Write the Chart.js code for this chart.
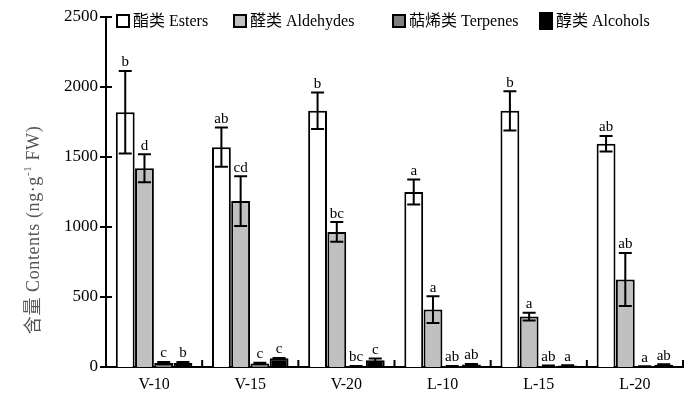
<!DOCTYPE html>
<html>
<head>
<meta charset="utf-8">
<script src="https://cdn.jsdelivr.net/npm/chart.js@4/dist/chart.umd.min.js"></script>
<style>
  body { margin: 0; background: #fff; }
  #wrap { width: 699px; height: 394px; }
</style>
</head>
<body>
<div id="wrap"><canvas id="contentChart" width="699" height="394"></canvas></div>
<script>
const categories = ["V-10", "V-15", "V-20", "L-10", "L-15", "L-20"];

const esters = [1820, 1570, 1830, 1250, 1830, 1595];
const estersErr = [295, 140, 130, 90, 140, 55];
const estersSig = ["b", "ab", "b", "a", "b", "ab"];

const aldehydes = [1420, 1185, 965, 410, 360, 625];
const aldehydesErr = [100, 178, 70, 95, 28, 190];
const aldehydesSig = ["d", "cd", "bc", "a", "a", "ab"];

const terpenes = [28, 25, 5, 6, 8, 4];
const terpenesErr = [8, 5, 2, 2, 2, 1];
const terpenesSig = ["c", "c", "bc", "ab", "ab", "a"];

const alcohols = [28, 62, 48, 18, 10, 16];
const alcoholsErr = [8, 3, 12, 3, 2, 3];
const alcoholsSig = ["b", "c", "c", "ab", "a", "ab"];

const yTicks = [0, 500, 1000, 1500, 2000, 2500];

const serif = "'Liberation Serif', 'Noto Sans CJK SC', serif";

// error bars + significance letters
const errorBars = {
    id: "errorBars",
    afterDatasetsDraw(chart) {
        const ctx = chart.ctx;
        const y = chart.scales.y;
        ctx.save();
        chart.data.datasets.forEach((ds, i) => {
            const meta = chart.getDatasetMeta(i);
            meta.data.forEach((bar, j) => {
                const v = ds.data[j];
                const e = ds.err[j];
                const top = y.getPixelForValue(v + e);
                const bot = y.getPixelForValue(Math.max(0, v - e));
                ctx.strokeStyle = "#000";
                ctx.lineWidth = 2;
                ctx.beginPath();
                ctx.moveTo(bar.x, top);
                ctx.lineTo(bar.x, bot);
                ctx.moveTo(bar.x - 6.5, top);
                ctx.lineTo(bar.x + 6.5, top);
                ctx.moveTo(bar.x - 6.5, bot);
                ctx.lineTo(bar.x + 6.5, bot);
                ctx.stroke();
                ctx.fillStyle = "#000";
                ctx.font = "15px " + serif;
                ctx.textAlign = "center";
                ctx.textBaseline = "bottom";
                ctx.fillText(ds.sig[j], bar.x, Math.min(top, bar.y) - 1);
            });
        });
        ctx.restore();
    }
};

// axis ticks, legend and y title drawn by hand
const decorations = {
    id: "decorations",
    afterDraw(chart) {
        const ctx = chart.ctx;
        const area = chart.chartArea;
        const y = chart.scales.y;
        const x = chart.scales.x;
        ctx.save();
        ctx.strokeStyle = "#000";
        ctx.lineWidth = 2;
        ctx.beginPath();
        yTicks.forEach(t => {
            const py = Math.round(y.getPixelForValue(t));
            ctx.moveTo(area.left - 6, py);
            ctx.lineTo(area.left + 6, py);
        });
        for (let k = 1; k <= categories.length; k++) {
            const px = x.getPixelForValue(k - 0.5);
            ctx.moveTo(px, area.bottom);
            ctx.lineTo(px, area.bottom - 7);
        }
        ctx.stroke();

        // legend
        const items = [
            { x: 117, w: 12, h: 12 },
            { x: 234, w: 12, h: 12 },
            { x: 393, w: 12, h: 12 },
            { x: 540, w: 12, h: 16 }
        ];
        ctx.font = "16px " + serif;
        ctx.textAlign = "left";
        ctx.textBaseline = "middle";
        chart.data.datasets.forEach((ds, i) => {
            const it = items[i];
            const cy = 21;
            ctx.fillStyle = ds.backgroundColor;
            ctx.fillRect(it.x, cy - it.h / 2, it.w, it.h);
            ctx.lineWidth = 2;
            ctx.strokeStyle = "#000";
            ctx.strokeRect(it.x, cy - it.h / 2, it.w, it.h);
            ctx.fillStyle = "#000";
            ctx.fillText(ds.label, it.x + it.w + 4, cy + 1);
        });

        // y axis title with superscript
        ctx.translate(34, 230);
        ctx.rotate(-Math.PI / 2);
        ctx.fillStyle = "#555";
        ctx.letterSpacing = "0.6px";
        const main = "含量 Contents (ng·g";
        const sup = "-1";
        const tail = " FW)";
        const big = "18px " + serif;
        const small = "11px " + serif;
        ctx.font = big;
        const w1 = ctx.measureText(main).width;
        const w3 = ctx.measureText(tail).width;
        ctx.font = small;
        const w2 = ctx.measureText(sup).width;
        let sx = -(w1 + w2 + w3) / 2;
        ctx.textAlign = "left";
        ctx.textBaseline = "middle";
        ctx.font = big;
        ctx.fillText(main, sx, 0);
        ctx.font = small;
        ctx.fillText(sup, sx + w1, -6);
        ctx.font = big;
        ctx.fillText(tail, sx + w1 + w2, 0);
        ctx.restore();
    }
};

const ctx = document.getElementById("contentChart");

new Chart(ctx, {
    type: "bar",
    data: {
        labels: categories,
        datasets: [
            { label: "酯类 Esters", data: esters, err: estersErr, sig: estersSig, backgroundColor: "#ffffff" },
            { label: "醛类 Aldehydes", data: aldehydes, err: aldehydesErr, sig: aldehydesSig, backgroundColor: "#c0c0c0" },
            { label: "萜烯类 Terpenes", data: terpenes, err: terpenesErr, sig: terpenesSig, backgroundColor: "#808080" },
            { label: "醇类 Alcohols", data: alcohols, err: alcoholsErr, sig: alcoholsSig, backgroundColor: "#000000" }
        ].map(d => Object.assign(d, {
            borderColor: "#000",
            borderWidth: 2,
            categoryPercentage: 0.8,
            barPercentage: 0.98
        }))
    },
    options: {
        responsive: false,
        animation: false,
        layout: {
            padding: { left: 0, right: 16, top: 17, bottom: 0 }
        },
        plugins: {
            legend: { display: false },
            tooltip: { enabled: false }
        },
        scales: {
            y: {
                min: 0,
                max: 2500,
                afterFit: s => { s.width = 106; },
                afterBuildTicks: s => { s.ticks = yTicks.map(v => ({ value: v })); },
                border: { display: true, color: "#000", width: 2 },
                grid: { display: false },
                ticks: {
                    color: "#000",
                    padding: 0,
                    callback: v => String(v),
                    font: { family: serif, size: 17 }
                }
            },
            x: {
                afterFit: s => { s.height = 27; },
                border: { display: true, color: "#000", width: 2 },
                grid: { display: false },
                ticks: {
                    color: "#000",
                    padding: 0,
                    font: { family: serif, size: 16 }
                }
            }
        }
    },
    plugins: [errorBars, decorations]
});
</script>
</body>
</html>
